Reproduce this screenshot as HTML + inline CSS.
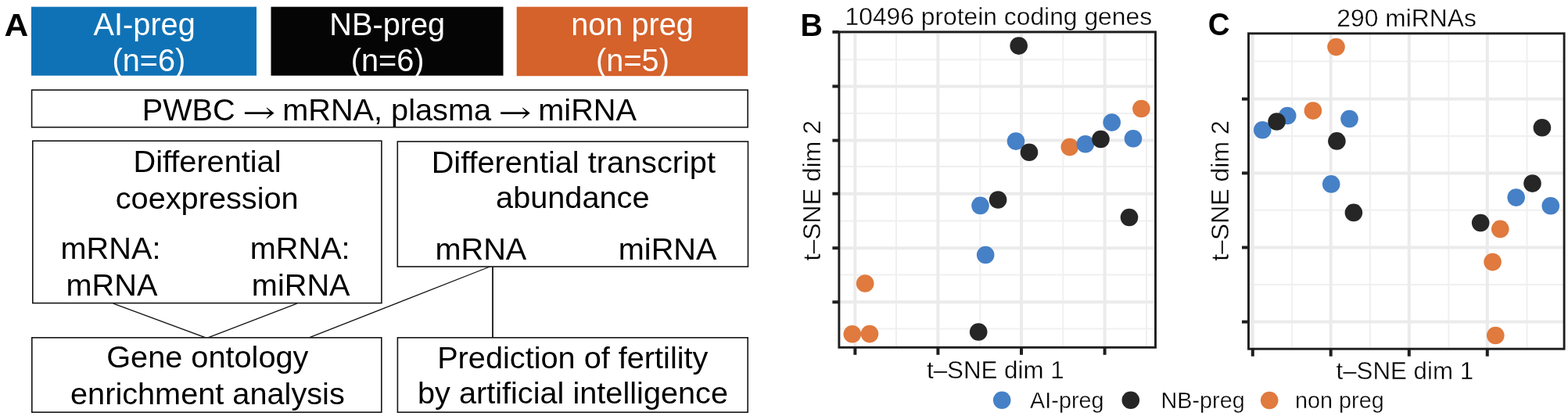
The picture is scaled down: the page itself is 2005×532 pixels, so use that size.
<!DOCTYPE html>
<html><head><meta charset="utf-8"><title>Figure</title>
<style>
html,body{margin:0;padding:0;background:#fff;}
body{width:2005px;height:532px;overflow:hidden;}
svg{display:block;font-family:'Liberation Sans', sans-serif;}
.pt{stroke:#fff;stroke-width:0.35px;}
</style></head><body>
<svg width="2005" height="532" viewBox="0 0 2005 532">
<rect width="2005" height="532" fill="#fff"/>
<text x="0" y="0" font-size="40.4" font-weight="bold" transform="translate(5.4 45.5) scale(1.055 1)">A</text>
<rect x="40" y="8.7" width="288" height="88" fill="#1072b6"/>
<rect x="346.5" y="8.7" width="297" height="88" fill="#050505"/>
<rect x="660.7" y="8.7" width="295.5" height="88.5" fill="#d5612b"/>
<text x="184.7" y="44.7" font-size="39.7" text-anchor="middle" fill="#fff" font-weight="normal"  transform="translate(0 44.7) scale(1 1.045) translate(0 -44.7)">AI-preg</text>
<text x="190.3" y="91" font-size="39.7" text-anchor="middle" fill="#fff" font-weight="normal"  transform="translate(0 91) scale(1 1.045) translate(0 -91)">(n=6)</text>
<text x="495.2" y="44.7" font-size="39.7" text-anchor="middle" fill="#fff" font-weight="normal"  transform="translate(0 44.7) scale(1 1.045) translate(0 -44.7)">NB-preg</text>
<text x="495.6" y="91" font-size="39.7" text-anchor="middle" fill="#fff" font-weight="normal"  transform="translate(0 91) scale(1 1.045) translate(0 -91)">(n=6)</text>
<text x="808.5" y="44.7" font-size="39.7" text-anchor="middle" fill="#fff" font-weight="normal"  transform="translate(0 44.7) scale(1 1.045) translate(0 -44.7)">non preg</text>
<text x="809" y="91" font-size="39.7" text-anchor="middle" fill="#fff" font-weight="normal"  transform="translate(0 91) scale(1 1.045) translate(0 -91)">(n=5)</text>
<rect x="40.6" y="115.1" width="915.6" height="47.599999999999994" fill="none" stroke="#151515" stroke-width="1.6"/>
<text x="181.7" y="154.3" font-size="39.7" text-anchor="start" fill="#000" font-weight="normal" >PWBC</text>
<text x="0" y="0" font-size="34" font-family="'DejaVu Math TeX Gyre', 'DejaVu Sans', sans-serif" transform="translate(309.32 153.90) scale(1.315 0.995)">→</text>
<text x="361.2" y="154.3" font-size="39.7" text-anchor="start" fill="#000" font-weight="normal" >mRNA, plasma</text>
<text x="0" y="0" font-size="34" font-family="'DejaVu Math TeX Gyre', 'DejaVu Sans', sans-serif" transform="translate(636.42 153.90) scale(1.315 0.995)">→</text>
<text x="688.3" y="154.3" font-size="39.7" text-anchor="start" fill="#000" font-weight="normal" >miRNA</text>
<rect x="41.8" y="180.2" width="446.09999999999997" height="207.40000000000003" fill="none" stroke="#151515" stroke-width="1.6"/>
<rect x="508.3" y="181" width="448.2" height="160" fill="none" stroke="#151515" stroke-width="1.6"/>
<text x="265" y="220.4" font-size="39.7" text-anchor="middle" fill="#000" font-weight="normal" >Differential</text>
<text x="264.7" y="266.9" font-size="39.7" text-anchor="middle" fill="#000" font-weight="normal" >coexpression</text>
<text x="141.5" y="331" font-size="39.7" text-anchor="middle" fill="#000" font-weight="normal" >mRNA:</text>
<text x="143" y="377.5" font-size="39.7" text-anchor="middle" fill="#000" font-weight="normal" >mRNA</text>
<text x="383.7" y="331" font-size="39.7" text-anchor="middle" fill="#000" font-weight="normal" >mRNA:</text>
<text x="384.7" y="377.5" font-size="39.7" text-anchor="middle" fill="#000" font-weight="normal" >miRNA</text>
<text x="733.3" y="220.5" font-size="39.7" text-anchor="middle" fill="#000" font-weight="normal" >Differential transcript</text>
<text x="732.3" y="266" font-size="39.7" text-anchor="middle" fill="#000" font-weight="normal" >abundance</text>
<text x="614.9" y="331.8" font-size="39.7" text-anchor="middle" fill="#000" font-weight="normal" >mRNA</text>
<text x="853.6" y="331.8" font-size="39.7" text-anchor="middle" fill="#000" font-weight="normal" >miRNA</text>
<g stroke="#151515" stroke-width="1.3" fill="none"><line x1="144.8" y1="388.2" x2="262.5" y2="431.6"/><line x1="379.8" y1="388.2" x2="266.5" y2="431.6"/><line x1="626.5" y1="341" x2="395.8" y2="431.6"/><line x1="630" y1="341" x2="630" y2="431.6" stroke-width="1.8"/></g>
<rect x="40.8" y="431.8" width="447.0" height="95.40000000000003" fill="none" stroke="#151515" stroke-width="1.6"/>
<rect x="508.4" y="431.8" width="447.80000000000007" height="95.40000000000003" fill="none" stroke="#151515" stroke-width="1.6"/>
<text x="265.3" y="470.3" font-size="39.7" text-anchor="middle" fill="#000" font-weight="normal" >Gene ontology</text>
<text x="265.4" y="516.5" font-size="39.7" text-anchor="middle" fill="#000" font-weight="normal" >enrichment analysis</text>
<text x="732.3" y="471.1" font-size="39.7" text-anchor="middle" fill="#000" font-weight="normal" >Prediction of fertility</text>
<text x="732.5" y="516.1" font-size="39.7" text-anchor="middle" fill="#000" font-weight="normal" >by artificial intelligence</text>
<text x="0" y="0" font-size="40.5" font-weight="bold" transform="translate(1023.4 45.5) scale(0.975 1)">B</text><text x="1276.8" y="32.1" font-size="31.8" text-anchor="middle" fill="#000" font-weight="normal" class="pt">10496 protein coding genes</text><line x1="1146.0" y1="40.9" x2="1146.0" y2="444.3" stroke="#f0f0f0" stroke-width="2"/><line x1="1253.4" y1="40.9" x2="1253.4" y2="444.3" stroke="#f0f0f0" stroke-width="2"/><line x1="1359.3" y1="40.9" x2="1359.3" y2="444.3" stroke="#f0f0f0" stroke-width="2"/><line x1="1466.0" y1="40.9" x2="1466.0" y2="444.3" stroke="#f0f0f0" stroke-width="2"/><line x1="1072.9" y1="76.3" x2="1477.5" y2="76.3" stroke="#f0f0f0" stroke-width="2"/><line x1="1072.9" y1="145.0" x2="1477.5" y2="145.0" stroke="#f0f0f0" stroke-width="2"/><line x1="1072.9" y1="213.1" x2="1477.5" y2="213.1" stroke="#f0f0f0" stroke-width="2"/><line x1="1072.9" y1="282.6" x2="1477.5" y2="282.6" stroke="#f0f0f0" stroke-width="2"/><line x1="1072.9" y1="351.5" x2="1477.5" y2="351.5" stroke="#f0f0f0" stroke-width="2"/><line x1="1072.9" y1="420.6" x2="1477.5" y2="420.6" stroke="#f0f0f0" stroke-width="2"/><line x1="1093.4" y1="40.9" x2="1093.4" y2="444.3" stroke="#ebebeb" stroke-width="4"/><line x1="1199.4" y1="40.9" x2="1199.4" y2="444.3" stroke="#ebebeb" stroke-width="4"/><line x1="1306.0" y1="40.9" x2="1306.0" y2="444.3" stroke="#ebebeb" stroke-width="4"/><line x1="1412.6" y1="40.9" x2="1412.6" y2="444.3" stroke="#ebebeb" stroke-width="4"/><line x1="1072.9" y1="40.9" x2="1477.5" y2="40.9" stroke="#ebebeb" stroke-width="4"/><line x1="1072.9" y1="110.4" x2="1477.5" y2="110.4" stroke="#ebebeb" stroke-width="4"/><line x1="1072.9" y1="179.6" x2="1477.5" y2="179.6" stroke="#ebebeb" stroke-width="4"/><line x1="1072.9" y1="247.7" x2="1477.5" y2="247.7" stroke="#ebebeb" stroke-width="4"/><line x1="1072.9" y1="317.2" x2="1477.5" y2="317.2" stroke="#ebebeb" stroke-width="4"/><line x1="1072.9" y1="386.3" x2="1477.5" y2="386.3" stroke="#ebebeb" stroke-width="4"/><circle cx="1106.2" cy="362.5" r="11.3" fill="#e07a3e"/><circle cx="1089.8" cy="427.2" r="11.3" fill="#e07a3e"/><circle cx="1112.0" cy="427.1" r="11.3" fill="#e07a3e"/><circle cx="1251.2" cy="424.5" r="11.3" fill="#262626"/><circle cx="1253.5" cy="262.9" r="11.3" fill="#4680c6"/><circle cx="1260.2" cy="326" r="11.3" fill="#4680c6"/><circle cx="1276.1" cy="255.5" r="11.3" fill="#262626"/><circle cx="1302.7" cy="58.6" r="11.3" fill="#262626"/><circle cx="1299.0" cy="180.6" r="11.3" fill="#4680c6"/><circle cx="1316.0" cy="194.8" r="11.3" fill="#262626"/><circle cx="1367.8" cy="188.1" r="11.3" fill="#e07a3e"/><circle cx="1387.9" cy="184.3" r="11.3" fill="#4680c6"/><circle cx="1407.5" cy="178.0" r="11.3" fill="#262626"/><circle cx="1421.7" cy="156.6" r="11.3" fill="#4680c6"/><circle cx="1449.0" cy="177.3" r="11.3" fill="#4680c6"/><circle cx="1459.4" cy="139.0" r="11.3" fill="#e07a3e"/><circle cx="1444" cy="278" r="11.3" fill="#262626"/><rect x="1072.9" y="40.9" width="404.5999999999999" height="403.40000000000003" fill="none" stroke="#1e1e1e" stroke-width="2.9"/><line x1="1093.4" y1="444.3" x2="1093.4" y2="453.8" stroke="#1e1e1e" stroke-width="4"/><line x1="1199.4" y1="444.3" x2="1199.4" y2="453.8" stroke="#1e1e1e" stroke-width="4"/><line x1="1306.0" y1="444.3" x2="1306.0" y2="453.8" stroke="#1e1e1e" stroke-width="4"/><line x1="1412.6" y1="444.3" x2="1412.6" y2="453.8" stroke="#1e1e1e" stroke-width="4"/><line x1="1064.4" y1="40.9" x2="1072.9" y2="40.9" stroke="#1e1e1e" stroke-width="4"/><line x1="1064.4" y1="110.4" x2="1072.9" y2="110.4" stroke="#1e1e1e" stroke-width="4"/><line x1="1064.4" y1="179.6" x2="1072.9" y2="179.6" stroke="#1e1e1e" stroke-width="4"/><line x1="1064.4" y1="247.7" x2="1072.9" y2="247.7" stroke="#1e1e1e" stroke-width="4"/><line x1="1064.4" y1="317.2" x2="1072.9" y2="317.2" stroke="#1e1e1e" stroke-width="4"/><line x1="1064.4" y1="386.3" x2="1072.9" y2="386.3" stroke="#1e1e1e" stroke-width="4"/><text x="1272.8" y="483.9" font-size="31.3" text-anchor="middle" fill="#000" font-weight="normal" class="pt">t–SNE dim 1</text><text class="pt" x="0" y="0" font-size="32.0" text-anchor="middle" transform="translate(1049.3 243.7) rotate(-90)">t–SNE dim 2</text>
<text x="0" y="0" font-size="41" font-weight="bold" transform="translate(1544.8 45.4) scale(0.94 1)">C</text><text x="1798.6" y="33.5" font-size="31.8" text-anchor="middle" fill="#000" font-weight="normal" class="pt">290 miRNAs</text><line x1="1652.2" y1="42.8" x2="1652.2" y2="446.2" stroke="#f0f0f0" stroke-width="2"/><line x1="1751.9" y1="42.8" x2="1751.9" y2="446.2" stroke="#f0f0f0" stroke-width="2"/><line x1="1852.4" y1="42.8" x2="1852.4" y2="446.2" stroke="#f0f0f0" stroke-width="2"/><line x1="1952.5" y1="42.8" x2="1952.5" y2="446.2" stroke="#f0f0f0" stroke-width="2"/><line x1="1596.5" y1="78.6" x2="2000.1" y2="78.6" stroke="#f0f0f0" stroke-width="2"/><line x1="1596.5" y1="174.1" x2="2000.1" y2="174.1" stroke="#f0f0f0" stroke-width="2"/><line x1="1596.5" y1="268.8" x2="2000.1" y2="268.8" stroke="#f0f0f0" stroke-width="2"/><line x1="1596.5" y1="364.0" x2="2000.1" y2="364.0" stroke="#f0f0f0" stroke-width="2"/><line x1="1601.8" y1="42.8" x2="1601.8" y2="446.2" stroke="#ebebeb" stroke-width="4"/><line x1="1701.7" y1="42.8" x2="1701.7" y2="446.2" stroke="#ebebeb" stroke-width="4"/><line x1="1801.8" y1="42.8" x2="1801.8" y2="446.2" stroke="#ebebeb" stroke-width="4"/><line x1="1901.8" y1="42.8" x2="1901.8" y2="446.2" stroke="#ebebeb" stroke-width="4"/><line x1="1596.5" y1="126.6" x2="2000.1" y2="126.6" stroke="#ebebeb" stroke-width="4"/><line x1="1596.5" y1="221.4" x2="2000.1" y2="221.4" stroke="#ebebeb" stroke-width="4"/><line x1="1596.5" y1="316.5" x2="2000.1" y2="316.5" stroke="#ebebeb" stroke-width="4"/><line x1="1596.5" y1="411.6" x2="2000.1" y2="411.6" stroke="#ebebeb" stroke-width="4"/><circle cx="1708.5" cy="60.1" r="11.3" fill="#e07a3e"/><circle cx="1678.9" cy="141.6" r="11.3" fill="#e07a3e"/><circle cx="1614.3" cy="166.3" r="11.3" fill="#4680c6"/><circle cx="1646.2" cy="148.0" r="11.3" fill="#4680c6"/><circle cx="1632.6" cy="155.5" r="11.3" fill="#262626"/><circle cx="1725.5" cy="152.0" r="11.3" fill="#4680c6"/><circle cx="1709.4" cy="180.4" r="11.3" fill="#262626"/><circle cx="1702.2" cy="235.4" r="11.3" fill="#4680c6"/><circle cx="1730.9" cy="271.9" r="11.3" fill="#262626"/><circle cx="1971.9" cy="163.2" r="11.3" fill="#262626"/><circle cx="1938.7" cy="252.6" r="11.3" fill="#4680c6"/><circle cx="1982.8" cy="263.2" r="11.3" fill="#4680c6"/><circle cx="1959.5" cy="234.6" r="11.3" fill="#262626"/><circle cx="1893.2" cy="285.0" r="11.3" fill="#262626"/><circle cx="1918.3" cy="292.9" r="11.3" fill="#e07a3e"/><circle cx="1908.6" cy="335.1" r="11.3" fill="#e07a3e"/><circle cx="1912.3" cy="429" r="11.3" fill="#e07a3e"/><rect x="1596.5" y="42.8" width="403.5999999999999" height="403.4" fill="none" stroke="#1e1e1e" stroke-width="2.9"/><line x1="1601.8" y1="446.2" x2="1601.8" y2="455.7" stroke="#1e1e1e" stroke-width="4"/><line x1="1701.7" y1="446.2" x2="1701.7" y2="455.7" stroke="#1e1e1e" stroke-width="4"/><line x1="1801.8" y1="446.2" x2="1801.8" y2="455.7" stroke="#1e1e1e" stroke-width="4"/><line x1="1901.8" y1="446.2" x2="1901.8" y2="455.7" stroke="#1e1e1e" stroke-width="4"/><line x1="1588.0" y1="126.6" x2="1596.5" y2="126.6" stroke="#1e1e1e" stroke-width="4"/><line x1="1588.0" y1="221.4" x2="1596.5" y2="221.4" stroke="#1e1e1e" stroke-width="4"/><line x1="1588.0" y1="316.5" x2="1596.5" y2="316.5" stroke="#1e1e1e" stroke-width="4"/><line x1="1588.0" y1="411.6" x2="1596.5" y2="411.6" stroke="#1e1e1e" stroke-width="4"/><text x="1796.3" y="485" font-size="31.3" text-anchor="middle" fill="#000" font-weight="normal" class="pt">t–SNE dim 1</text><text class="pt" x="0" y="0" font-size="32.0" text-anchor="middle" transform="translate(1571.0 244) rotate(-90)">t–SNE dim 2</text>
<circle cx="1281.2" cy="511.8" r="11.3" fill="#4680c6"/><text x="1317.1" y="521.6" font-size="28.8" text-anchor="start" fill="#000" font-weight="normal" class="pt">AI-preg</text><circle cx="1445.8" cy="511.8" r="11.3" fill="#262626"/><text x="1484.5" y="521.6" font-size="28.8" text-anchor="start" fill="#000" font-weight="normal" class="pt">NB-preg</text><circle cx="1623.2" cy="512" r="11.3" fill="#e07a3e"/><text x="1656" y="521.6" font-size="28.8" text-anchor="start" fill="#000" font-weight="normal" class="pt">non preg</text>
</svg>
</body></html>
